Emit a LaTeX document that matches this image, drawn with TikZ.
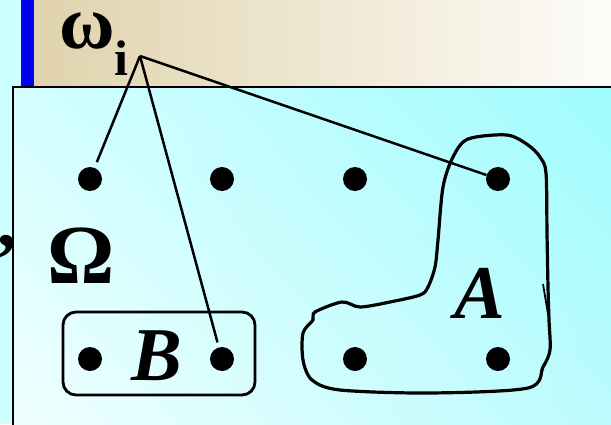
\documentclass[tikz,border=0pt]{standalone}
\usepackage{fontspec}
\setmainfont{Liberation Serif}
\usetikzlibrary{shadings}
\definecolor{leftcyan}{HTML}{CCFFFF}
\definecolor{bartan}{HTML}{E0D3AD}
\definecolor{barwhite}{HTML}{FDFCF9}
\definecolor{barblue}{HTML}{0000F0}
\definecolor{boxtr}{HTML}{A0FCFE}
\definecolor{boxtl}{HTML}{D4FEFF}
\definecolor{boxbl}{HTML}{F0FFFF}
\definecolor{boxbr}{HTML}{BCFBFD}
\tikzset{
  dot/.style={circle, fill=black, inner sep=0pt, minimum size=24pt},
  bigtext/.style={font=\fontsize{76}{80}\selectfont\bfseries, inner sep=0pt, anchor=base},
  subtext/.style={font=\fontsize{50}{54}\selectfont\bfseries, inner sep=0pt, anchor=base},
  setline/.style={line width=3.2pt},
  link/.style={line width=2.5pt},
}
\begin{document}
\begin{tikzpicture}[x=1pt,y=-1pt]
\useasboundingbox (0,0) rectangle (611,424);
% background and title bar
\fill[leftcyan] (0,0) rectangle (611,424);
\shade[left color=bartan, right color=barwhite] (34,0) rectangle (611,87);
\fill[barblue] (21,0) rectangle (34,87);
% sample space box
\shade[upper right=boxtr, upper left=boxtl, lower left=boxbl, lower right=boxbr] (13,87) rectangle (614,427);
\draw[line width=2.6pt] (614,87) -| (13,427);
% labels
\node[bigtext] (omega) at (87,48) {ω};
\node[subtext] (sub) at (121,75) {i};
\node[bigtext, font=\fontsize{84}{88}\selectfont\bfseries] (Omega) at (81,283) {Ω};
\node[bigtext] (comma) at (7,246) {,};
% points
\node[dot] (d11) at (90,179) {};
\node[dot] (d12) at (222,179) {};
\node[dot] (d13) at (355,179) {};
\node[dot] (d14) at (498,179) {};
\node[dot] (d21) at (90,359) {};
\node[dot] (d22) at (222,359) {};
\node[dot] (d23) at (355,359) {};
\node[dot] (d24) at (498,359) {};
% event B
\draw[line width=2.8pt, rounded corners=13pt] (63,312) rectangle (255,395);
\node[bigtext, font=\fontsize{76}{80}\selectfont\bfseries\itshape] (B) at (157,380) {B};
% event A
\draw[setline, line join=round] plot[smooth cycle, tension=0.5] coordinates {
  (468,139) (507,135) (528,145) (540,157) (546,173) (547,233) (548,287)
  (549,320) (550,350) (543,367) (528,388) (430,393) (340,390) (312,380)
  (303,360) (303,333) (313,320) (315,312) (342,302) (360,307) (390,302)
  (420,295) (428,287) (435,267) (438,240) (443,187) (453,157)};
\draw[line width=1.8pt] (543,284) -- (548,314);
\node[bigtext, font=\fontsize{76}{80}\selectfont\bfseries\itshape] (A) at (480,318) {A};
% outcome to points
\coordinate (apex) at (140,56);
\draw[link, shorten >=6pt] (apex) -- (d11);
\draw[link, shorten >=5pt] (apex) -- (d22);
\draw[link] (apex) -- (d14);
\end{tikzpicture}
\end{document}
